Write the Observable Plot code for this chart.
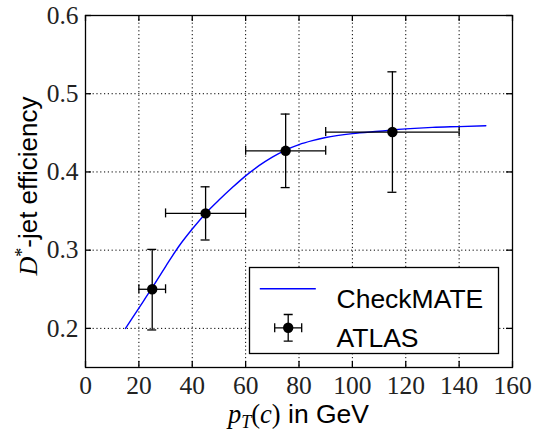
<!DOCTYPE html>
<html><head><meta charset="utf-8">
<script src="https://cdn.jsdelivr.net/npm/d3@7"></script>
<script src="https://cdn.jsdelivr.net/npm/@observablehq/plot@0.6"></script>
<style>body{margin:0;background:#fff} #chart{position:relative;width:534px;height:436px}</style>
</head><body><div id="chart"></div>
<script>
// Axis ticks
const xTicks = [0, 20, 40, 60, 80, 100, 120, 140, 160];
const yTicks = [0.2, 0.3, 0.4, 0.5, 0.6];
// ATLAS measurement
const atlasPt = [25, 45, 75, 115];
const atlasEff = [0.250, 0.347, 0.427, 0.451];
const atlasPtLow = [20, 30, 60, 90];
const atlasPtHigh = [30, 60, 90, 140];
const atlasEffLow = [0.198, 0.313, 0.380, 0.374];
const atlasEffHigh = [0.301, 0.381, 0.474, 0.528];
// CheckMATE curve
const cmPt = [15, 20, 25, 30, 35, 40, 45, 50, 55, 60, 65, 70, 75, 80, 85, 90, 100, 110, 120, 130, 140, 150];
const cmEff = [0.200, 0.226, 0.252, 0.279, 0.305, 0.327, 0.347, 0.364, 0.380, 0.395, 0.408, 0.419, 0.428, 0.435, 0.440, 0.444, 0.449, 0.452, 0.455, 0.457, 0.458, 0.459];

const atlas = atlasPt.map((x, i) => ({x, y: atlasEff[i], x1: atlasPtLow[i], x2: atlasPtHigh[i], y1: atlasEffLow[i], y2: atlasEffHigh[i]}));
const cm = cmPt.map((x, i) => ({x, y: cmEff[i]}));

const W = 534, H = 436, ML = 85, MR = 22, MT = 15, MB = 69;
const PW = W - ML - MR, PH = H - MT - MB;
const tickLen = 6;
const serif = "'Liberation Serif', serif";
const sans = "'Liberation Sans', Arial, sans-serif";
const ink = "#000";
const lw = 1.3;

const lineSym = {draw(ctx) { ctx.moveTo(-28, 0); ctx.lineTo(28, 0); }};
const errSym = {draw(ctx) {
  ctx.moveTo(-13.5, 0); ctx.lineTo(13.5, 0);
  ctx.moveTo(-13.5, -4.5); ctx.lineTo(-13.5, 4.5);
  ctx.moveTo(13.5, -4.5); ctx.lineTo(13.5, 4.5);
  ctx.moveTo(0, -13.3); ctx.lineTo(0, 13.3);
  ctx.moveTo(-4.5, -13.3); ctx.lineTo(4.5, -13.3);
  ctx.moveTo(-4.5, 13.3); ctx.lineTo(4.5, 13.3);
}};

const plot = Plot.plot({
  width: W, height: H,
  marginLeft: ML, marginRight: MR, marginTop: MT, marginBottom: MB,
  style: {fontFamily: serif, fontSize: "25px", background: "#fff", color: ink},
  x: {domain: [0, 160], label: null},
  y: {domain: [0.15, 0.6], label: null},
  marks: [
    Plot.gridX(xTicks, {stroke: ink, strokeOpacity: 1, strokeWidth: 1, strokeDasharray: "1.2,2.6"}),
    Plot.gridY(yTicks, {stroke: ink, strokeOpacity: 1, strokeWidth: 1, strokeDasharray: "1.2,2.6"}),
    Plot.axisX(xTicks, {tickSize: 0, tickPadding: 8, fontSize: 25.5, fontFamily: serif, fill: "#222", label: null}),
    Plot.axisY(yTicks, {tickSize: 0, tickPadding: 7, fontSize: 25.5, fontFamily: serif, fill: "#222", label: null, tickFormat: d => d.toFixed(1)}),
    // inward ticks on all four sides
    Plot.tickX(xTicks, {x: d => d, insetTop: PH - tickLen, stroke: ink, strokeWidth: lw}),
    Plot.tickX(xTicks, {x: d => d, insetBottom: PH - tickLen, stroke: ink, strokeWidth: lw}),
    Plot.tickY(yTicks, {y: d => d, insetRight: PW - tickLen, stroke: ink, strokeWidth: lw}),
    Plot.tickY(yTicks, {y: d => d, insetLeft: PW - tickLen, stroke: ink, strokeWidth: lw}),
    // CheckMATE curve
    Plot.line(cm, {x: "x", y: "y", stroke: "#0000ff", strokeWidth: 1.4, curve: "monotone-x"}),
    // ATLAS error bars
    Plot.ruleX(atlas, {x: "x", y1: "y1", y2: "y2", stroke: ink, strokeWidth: lw}),
    Plot.ruleY(atlas, {y: "y", x1: "x1", x2: "x2", stroke: ink, strokeWidth: lw}),
    Plot.ruleY(atlas, {y: "y1", x1: "x", x2: "x", insetLeft: -4.5, insetRight: -4.5, stroke: ink, strokeWidth: lw}),
    Plot.ruleY(atlas, {y: "y2", x1: "x", x2: "x", insetLeft: -4.5, insetRight: -4.5, stroke: ink, strokeWidth: lw}),
    Plot.ruleX(atlas, {x: "x1", y1: "y", y2: "y", insetTop: -4.5, insetBottom: -4.5, stroke: ink, strokeWidth: lw}),
    Plot.ruleX(atlas, {x: "x2", y1: "y", y2: "y", insetTop: -4.5, insetBottom: -4.5, stroke: ink, strokeWidth: lw}),
    Plot.dot(atlas, {x: "x", y: "y", r: 5.2, fill: ink, stroke: "none"}),
    // frame
    Plot.frame({stroke: ink, strokeWidth: lw}),
    // legend
    Plot.frame({insetLeft: 164, insetTop: 252, insetRight: 14, insetBottom: 14, fill: "#fff", stroke: ink, strokeWidth: lw}),
    Plot.dot(["CheckMATE"], {frameAnchor: "top-left", dx: 202.3, dy: 273.3, symbol: lineSym, r: 5, stroke: "#0000ff", strokeWidth: 1.4, fill: "none"}),
    Plot.dot(["ATLAS"], {frameAnchor: "top-left", dx: 202.7, dy: 312.3, symbol: errSym, r: 5, stroke: ink, strokeWidth: lw, fill: "none"}),
    Plot.dot(["ATLAS"], {frameAnchor: "top-left", dx: 202.7, dy: 312.3, r: 5.2, fill: ink, stroke: "none"}),
    Plot.text(["CheckMATE"], {frameAnchor: "top-left", dx: 251, dy: 274, text: d => d, textAnchor: "start", fontSize: 26.5, fontFamily: sans, fill: ink}),
    Plot.text(["ATLAS"], {frameAnchor: "top-left", dx: 251, dy: 313, text: d => d, textAnchor: "start", fontSize: 26.5, fontFamily: sans, fill: ink})
  ]
});

const svg = d3.select(plot);
// y-axis label
const yl = svg.append("text")
  .attr("transform", `translate(37,${MT + PH / 2 - 5}) rotate(-90)`)
  .attr("text-anchor", "middle").attr("fill", ink).attr("font-size", 26);
yl.append("tspan").attr("font-family", serif).attr("font-style", "italic").text("D");
yl.append("tspan").attr("font-family", serif).attr("font-size", 18).attr("dy", -9).text("*");
yl.append("tspan").attr("font-family", sans).attr("dy", 9).text("-jet efficiency");
// x-axis label
const xl = svg.append("text")
  .attr("x", ML + PW / 2).attr("y", 423)
  .attr("text-anchor", "middle").attr("fill", ink).attr("font-size", 26.5);
xl.append("tspan").attr("font-family", serif).attr("font-style", "italic").text("p");
xl.append("tspan").attr("font-family", serif).attr("font-style", "italic").attr("font-size", 18).attr("dy", 5).text("T");
xl.append("tspan").attr("font-family", serif).attr("dy", -5).text("(");
xl.append("tspan").attr("font-family", serif).attr("font-style", "italic").text("c");
xl.append("tspan").attr("font-family", serif).text(")");
xl.append("tspan").attr("font-family", sans).text(" in GeV");

document.getElementById("chart").appendChild(plot);
</script>
</body></html>
